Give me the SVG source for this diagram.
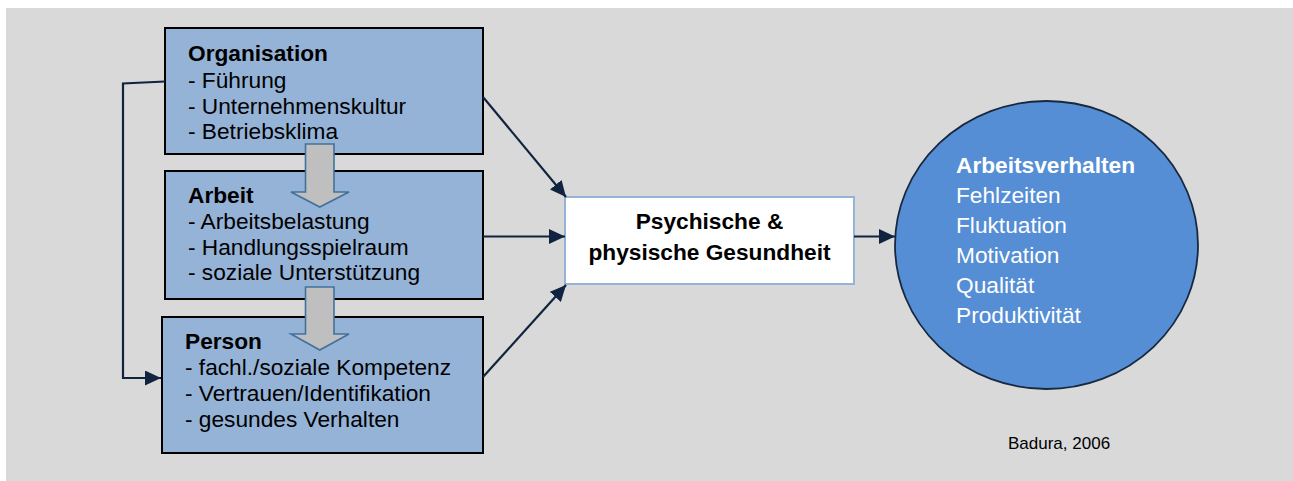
<svg xmlns="http://www.w3.org/2000/svg" width="1293" height="481" viewBox="0 0 1293 481">
  <style>
    .box { fill: #95B3D7; stroke: #000000; stroke-width: 2; }
    .t { font-family: "Liberation Sans", Arial, sans-serif; font-size: 22.7px; fill: #000000; }
    .b { font-weight: bold; }
    .w { fill: #FFFFFF; }
    .conn { fill: none; stroke: #10243F; stroke-width: 2.2; }
    .garrow { fill: #BFBFBF; stroke: #41719C; stroke-width: 1.6; }
  </style>
  <defs>
    <marker id="ah" markerUnits="userSpaceOnUse" markerWidth="17" markerHeight="15" refX="16" refY="7.5" orient="auto">
      <path d="M0,0 L16,7.5 L0,15 z" fill="#10243F"/>
    </marker>
  </defs>
  <rect x="6" y="8" width="1287" height="473" fill="#D9D9D9"/>

  <g id="organisation">
    <rect class="box" x="165" y="28" width="318" height="126"/>
    <text class="t b" x="188" y="61">Organisation</text>
    <text class="t" x="188" y="87.5">- Führung</text>
    <text class="t" x="188" y="113.5">- Unternehmenskultur</text>
    <text class="t" x="188" y="139">- Betriebsklima</text>
  </g>

  <g id="arbeit">
    <rect class="box" x="165" y="171" width="318" height="128"/>
    <text class="t b" x="188" y="203">Arbeit</text>
    <text class="t" x="188" y="229">- Arbeitsbelastung</text>
    <text class="t" x="188" y="255">- Handlungsspielraum</text>
    <text class="t" x="188" y="280">- soziale Unterstützung</text>
  </g>

  <g id="person">
    <rect class="box" x="162" y="317" width="321" height="136"/>
    <text class="t b" x="185" y="349">Person</text>
    <text class="t" x="185" y="375">- fachl./soziale Kompetenz</text>
    <text class="t" x="185" y="401">- Vertrauen/Identifikation</text>
    <text class="t" x="185" y="427">- gesundes Verhalten</text>
  </g>

  <g id="flow-arrows">
    <path class="garrow" d="M305.5,144 L334,144 L334,192 L349,192 L319.75,207 L291,192 L305.5,192 z"/>
    <path class="garrow" d="M305.5,287 L334,287 L334,334 L349,334 L319.75,350 L291,334 L305.5,334 z"/>
  </g>

  <g id="gesundheit">
    <rect x="565" y="197" width="289" height="87" fill="#FFFFFF" stroke="#95B3D7" stroke-width="2"/>
    <text class="t b" x="709.5" y="229" text-anchor="middle">Psychische &amp;</text>
    <text class="t b" x="709.5" y="259.5" text-anchor="middle">physische Gesundheit</text>
  </g>

  <g id="arbeitsverhalten">
    <ellipse cx="1046.5" cy="245" rx="151.5" ry="144" fill="#558ED5" stroke="#17283F" stroke-width="1.8"/>
    <text class="t b w" x="956" y="172.5">Arbeitsverhalten</text>
    <text class="t w" x="956" y="202.5">Fehlzeiten</text>
    <text class="t w" x="956" y="232.5">Fluktuation</text>
    <text class="t w" x="956" y="262.5">Motivation</text>
    <text class="t w" x="956" y="292.5">Qualität</text>
    <text class="t w" x="956" y="322.5">Produktivität</text>
  </g>

  <g id="connectors">
    <path class="conn" d="M165,81.5 L123,83.5 L123,378 L161,378" marker-end="url(#ah)"/>
    <path class="conn" d="M483,97 L566,197" marker-end="url(#ah)"/>
    <path class="conn" d="M483,236.5 L565,236.5" marker-end="url(#ah)"/>
    <path class="conn" d="M483,377 L566,285" marker-end="url(#ah)"/>
    <path class="conn" d="M854,236.5 L895,236.5" marker-end="url(#ah)"/>
  </g>

  <text id="source" x="1008" y="449" font-family="'Liberation Sans', Arial, sans-serif" font-size="17px" fill="#000000">Badura, 2006</text>
</svg>
